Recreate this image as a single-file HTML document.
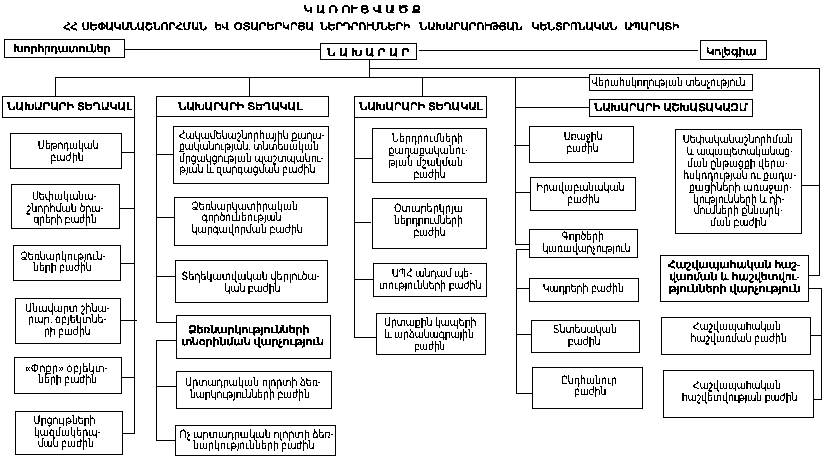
<!DOCTYPE html>
<html lang="hy">
<head>
<meta charset="utf-8">
<title>Կառուցվածք</title>
<style>
html,body{margin:0;padding:0;background:#fff;}
body{width:826px;height:462px;overflow:hidden;font-family:"Liberation Sans",sans-serif;}
svg{display:block;}
svg text{font-family:"Liberation Sans",sans-serif;font-size:11.5px;fill:#000;}
svg text.b{font-weight:bold;font-size:10.4px;stroke:#000;stroke-width:0.3px;}
svg .ln{fill:#000;}
svg .bx{fill:#fff;stroke:#000;stroke-width:1;}
</style>
</head>
<body>
<svg width="826" height="462" viewBox="0 0 826 462" shape-rendering="crispEdges">
<defs>
<filter id="th" x="0" y="0" width="826" height="462" filterUnits="userSpaceOnUse" color-interpolation-filters="sRGB">
<feComponentTransfer><feFuncA type="discrete" tableValues="0 0 1 1 1"/></feComponentTransfer>
</filter>
<filter id="thb" x="0" y="0" width="826" height="462" filterUnits="userSpaceOnUse" color-interpolation-filters="sRGB">
<feComponentTransfer><feFuncA type="discrete" tableValues="0 0 0 1 1"/></feComponentTransfer>
</filter>
</defs>
<rect x="0" y="0" width="826" height="462" fill="#fff"/>
<g class="ln">
<rect x="124" y="49" width="197" height="1"/>
<rect x="419" y="50" width="279" height="1"/>
<rect x="369" y="68" width="451" height="1"/>
<rect x="808" y="275" width="12" height="1"/>
<rect x="801" y="185" width="19" height="1"/>
<rect x="55" y="77" width="535" height="1"/>
<rect x="515" y="107" width="75" height="1"/>
<rect x="121" y="152" width="14" height="1"/>
<rect x="119" y="208" width="16" height="1"/>
<rect x="120" y="263" width="15" height="1"/>
<rect x="120" y="320" width="17" height="1"/>
<rect x="121" y="377" width="14" height="1"/>
<rect x="122" y="433" width="13" height="1"/>
<rect x="156" y="154" width="18" height="1"/>
<rect x="156" y="217" width="19" height="1"/>
<rect x="156" y="276" width="20" height="1"/>
<rect x="156" y="322" width="21" height="1"/>
<rect x="156" y="340" width="21" height="1"/>
<rect x="156" y="386" width="21" height="1"/>
<rect x="156" y="440" width="20" height="1"/>
<rect x="354" y="158" width="19" height="1"/>
<rect x="354" y="222" width="17" height="1"/>
<rect x="354" y="279" width="20" height="1"/>
<rect x="354" y="337" width="23" height="1"/>
<rect x="514" y="145" width="16" height="1"/>
<rect x="515" y="192" width="16" height="1"/>
<rect x="515" y="244" width="16" height="1"/>
<rect x="516" y="249" width="14" height="1"/>
<rect x="516" y="288" width="14" height="1"/>
<rect x="516" y="334" width="16" height="1"/>
<rect x="516" y="393" width="17" height="1"/>
<rect x="808" y="288" width="14" height="1"/>
<rect x="810" y="335" width="12" height="1"/>
<rect x="813" y="399" width="9" height="1"/>
<rect x="369" y="59" width="1" height="19"/>
<rect x="819" y="68" width="1" height="208"/>
<rect x="55" y="77" width="1" height="20"/>
<rect x="249" y="77" width="1" height="20"/>
<rect x="422" y="77" width="1" height="20"/>
<rect x="515" y="77" width="1" height="168"/>
<rect x="134" y="116" width="1" height="318"/>
<rect x="156" y="116" width="1" height="207"/>
<rect x="156" y="340" width="1" height="101"/>
<rect x="354" y="116" width="1" height="222"/>
<rect x="516" y="249" width="1" height="145"/>
<rect x="821" y="288" width="1" height="112"/>
</g>
<g class="bx">
<rect x="4.5" y="39.5" width="120" height="18"/>
<rect x="320.5" y="43.5" width="96" height="16"/>
<rect x="700.5" y="40.5" width="66" height="19"/>
<rect x="589.5" y="74.5" width="163" height="16"/>
<rect x="589.5" y="99.5" width="163" height="17"/>
<rect x="2.5" y="96.5" width="132" height="21"/>
<rect x="156.5" y="96.5" width="172" height="20"/>
<rect x="354.5" y="96.5" width="132" height="21"/>
<rect x="10.5" y="133.5" width="111" height="35"/>
<rect x="11.5" y="184.5" width="108" height="44"/>
<rect x="13.5" y="245.5" width="107" height="35"/>
<rect x="15.5" y="298.5" width="105" height="45"/>
<rect x="14.5" y="357.5" width="107" height="36"/>
<rect x="15.5" y="411.5" width="107" height="43"/>
<rect x="173.5" y="126.5" width="155" height="57"/>
<rect x="174.5" y="197.5" width="153" height="48"/>
<rect x="175.5" y="260.5" width="152" height="42"/>
<rect x="176.5" y="315.5" width="154" height="43"/>
<rect x="176.5" y="371.5" width="155" height="37"/>
<rect x="175.5" y="425.5" width="160" height="30"/>
<rect x="372.5" y="128.5" width="114" height="54"/>
<rect x="372.5" y="198.5" width="114" height="50"/>
<rect x="373.5" y="263.5" width="113" height="33"/>
<rect x="376.5" y="313.5" width="109" height="41"/>
<rect x="529.5" y="126.5" width="104" height="36"/>
<rect x="530.5" y="177.5" width="105" height="33"/>
<rect x="529.5" y="229.5" width="108" height="28"/>
<rect x="529.5" y="278.5" width="109" height="23"/>
<rect x="531.5" y="320.5" width="108" height="32"/>
<rect x="532.5" y="367.5" width="110" height="41"/>
<rect x="675.5" y="129.5" width="126" height="104"/>
<rect x="660.5" y="255.5" width="148" height="46"/>
<rect x="661.5" y="317.5" width="149" height="37"/>
<rect x="663.5" y="370.5" width="150" height="47"/>
</g>
<g text-rendering="geometricPrecision" filter="url(#th)">
<text x="591.2" y="85.7" textLength="154.2" lengthAdjust="spacingAndGlyphs">Վերահսկողության տեսչություն</text>
<text x="37.7" y="149.4" textLength="60.8" lengthAdjust="spacingAndGlyphs">Մեթոդական</text>
<text x="50.3" y="160.7" textLength="33.4" lengthAdjust="spacingAndGlyphs">բաժին</text>
<text x="31.9" y="200.2" textLength="64.8" lengthAdjust="spacingAndGlyphs">Սեփականա-</text>
<text x="26.6" y="211.7" textLength="77.2" lengthAdjust="spacingAndGlyphs">շնորհման ծրա-</text>
<text x="33.4" y="222.8" textLength="63.3" lengthAdjust="spacingAndGlyphs">գրերի բաժին</text>
<text x="20.6" y="259.6" textLength="84.9" lengthAdjust="spacingAndGlyphs">Ձեռնարկություն-</text>
<text x="33.2" y="271.0" textLength="58.5" lengthAdjust="spacingAndGlyphs">ների բաժին</text>
<text x="25.1" y="311.5" textLength="84.7" lengthAdjust="spacingAndGlyphs">Անավարտ շինա-</text>
<text x="28.1" y="323.0" textLength="78.7" lengthAdjust="spacingAndGlyphs">րար. օբյեկտնե-</text>
<text x="44.0" y="334.5" textLength="46.5" lengthAdjust="spacingAndGlyphs">րի բաժին</text>
<text x="25.1" y="371.6" textLength="82.9" lengthAdjust="spacingAndGlyphs">«Փոքր» օբյեկտ-</text>
<text x="38.2" y="383.0" textLength="59.0" lengthAdjust="spacingAndGlyphs">ների բաժին</text>
<text x="33.4" y="424.0" textLength="62.1" lengthAdjust="spacingAndGlyphs">Մրցույթների</text>
<text x="33.9" y="435.5" textLength="66.6" lengthAdjust="spacingAndGlyphs">կազմակերպ-</text>
<text x="37.7" y="447.0" textLength="56.5" lengthAdjust="spacingAndGlyphs">ման բաժին</text>
<text x="178.9" y="138.6" textLength="145.7" lengthAdjust="spacingAndGlyphs">Հակամենաշնորհային քաղա-</text>
<text x="178.9" y="150.4" textLength="139.9" lengthAdjust="spacingAndGlyphs">քականության, տնտեսական</text>
<text x="178.9" y="162.0" textLength="144.9" lengthAdjust="spacingAndGlyphs">մրցակցության պաշտպանու-</text>
<text x="178.9" y="173.3" textLength="136.6" lengthAdjust="spacingAndGlyphs">թյան և զարգացման բաժին</text>
<text x="191.5" y="210.0" textLength="106.5" lengthAdjust="spacingAndGlyphs">Ձեռնարկատիրական</text>
<text x="201.5" y="221.3" textLength="80.0" lengthAdjust="spacingAndGlyphs">գործունեության</text>
<text x="191.5" y="232.8" textLength="111.3" lengthAdjust="spacingAndGlyphs">կարգավորման բաժին</text>
<text x="181.4" y="280.0" textLength="138.6" lengthAdjust="spacingAndGlyphs">Տեղեկատվական վերլուծա-</text>
<text x="224.6" y="291.5" textLength="55.8" lengthAdjust="spacingAndGlyphs">կան բաժին</text>
<text x="185.0" y="386.0" textLength="136.0" lengthAdjust="spacingAndGlyphs">Արտադրական ոլորտի ձեռ-</text>
<text x="190.0" y="397.5" textLength="120.0" lengthAdjust="spacingAndGlyphs">նարկությունների բաժին</text>
<text x="179.6" y="437.7" textLength="154.3" lengthAdjust="spacingAndGlyphs">Ոչ արտադրական ոլորտի ձեռ-</text>
<text x="193.0" y="449.0" textLength="121.3" lengthAdjust="spacingAndGlyphs">նարկությունների բաժին</text>
<text x="392.0" y="141.6" textLength="71.1" lengthAdjust="spacingAndGlyphs">Ներդրումների</text>
<text x="388.5" y="153.9" textLength="79.6" lengthAdjust="spacingAndGlyphs">քաղաքականու-</text>
<text x="388.5" y="166.0" textLength="74.6" lengthAdjust="spacingAndGlyphs">թյան մշակման</text>
<text x="413.4" y="177.5" textLength="32.1" lengthAdjust="spacingAndGlyphs">բաժին</text>
<text x="394.0" y="212.0" textLength="69.1" lengthAdjust="spacingAndGlyphs">Օտարերկրյա</text>
<text x="394.0" y="224.0" textLength="69.1" lengthAdjust="spacingAndGlyphs">ներդրումների</text>
<text x="413.4" y="235.8" textLength="32.1" lengthAdjust="spacingAndGlyphs">բաժին</text>
<text x="391.7" y="277.0" textLength="80.6" lengthAdjust="spacingAndGlyphs">ԱՊՀ անդամ պե-</text>
<text x="379.1" y="288.8" textLength="102.2" lengthAdjust="spacingAndGlyphs">տությունների բաժին</text>
<text x="383.9" y="325.8" textLength="92.5" lengthAdjust="spacingAndGlyphs">Արտաքին կապերի</text>
<text x="383.9" y="337.8" textLength="90.2" lengthAdjust="spacingAndGlyphs">և արձանագրային</text>
<text x="413.9" y="349.6" textLength="31.3" lengthAdjust="spacingAndGlyphs">բաժին</text>
<text x="563.8" y="140.2" textLength="38.7" lengthAdjust="spacingAndGlyphs">Առաջին</text>
<text x="566.6" y="152.3" textLength="32.0" lengthAdjust="spacingAndGlyphs">բաժին</text>
<text x="536.4" y="190.6" textLength="88.2" lengthAdjust="spacingAndGlyphs">Իրավաբանական</text>
<text x="567.3" y="202.5" textLength="32.2" lengthAdjust="spacingAndGlyphs">բաժին</text>
<text x="561.8" y="240.2" textLength="42.2" lengthAdjust="spacingAndGlyphs">Գործերի</text>
<text x="542.4" y="251.7" textLength="88.2" lengthAdjust="spacingAndGlyphs">կառավարչություն</text>
<text x="542.8" y="292.0" textLength="81.0" lengthAdjust="spacingAndGlyphs">Կադրերի բաժին</text>
<text x="552.8" y="332.8" textLength="64.1" lengthAdjust="spacingAndGlyphs">Տնտեսական</text>
<text x="567.8" y="344.7" textLength="32.6" lengthAdjust="spacingAndGlyphs">բաժին</text>
<text x="561.0" y="383.6" textLength="56.0" lengthAdjust="spacingAndGlyphs">Ընդհանուր</text>
<text x="574.3" y="395.4" textLength="31.9" lengthAdjust="spacingAndGlyphs">բաժին</text>
<text x="682.8" y="143.0" textLength="110.4" lengthAdjust="spacingAndGlyphs">Սեփականաշնորհման</text>
<text x="686.8" y="155.0" textLength="106.2" lengthAdjust="spacingAndGlyphs">և ապապետականաց-</text>
<text x="687.0" y="167.0" textLength="101.1" lengthAdjust="spacingAndGlyphs">ման ընթացքի վերա-</text>
<text x="683.3" y="178.8" textLength="113.1" lengthAdjust="spacingAndGlyphs">հսկողության ու քաղա-</text>
<text x="688.7" y="190.6" textLength="103.6" lengthAdjust="spacingAndGlyphs">քացիների առաջար-</text>
<text x="693.2" y="202.5" textLength="91.2" lengthAdjust="spacingAndGlyphs">կությունների և դի-</text>
<text x="693.7" y="214.3" textLength="89.4" lengthAdjust="spacingAndGlyphs">մումների քննարկ-</text>
<text x="710.2" y="226.2" textLength="56.3" lengthAdjust="spacingAndGlyphs">ման բաժին</text>
<text x="693.1" y="330.0" textLength="88.0" lengthAdjust="spacingAndGlyphs">Հաշվապահական</text>
<text x="690.6" y="341.8" textLength="96.2" lengthAdjust="spacingAndGlyphs">հաշվառման բաժին</text>
<text x="693.1" y="388.7" textLength="88.0" lengthAdjust="spacingAndGlyphs">Հաշվապահական</text>
<text x="681.8" y="400.8" textLength="115.6" lengthAdjust="spacingAndGlyphs">հաշվետվության բաժին</text>
</g>
<g text-rendering="geometricPrecision" filter="url(#thb)">
<text class="b" x="303.7" y="13.0" textLength="117.3" lengthAdjust="spacingAndGlyphs">Կ Ա Ռ ՈՒ Ց Վ Ա Ծ Ք</text>
<text class="b" x="63.5" y="29.6" textLength="14.0" lengthAdjust="spacingAndGlyphs">ՀՀ</text>
<text class="b" x="82.1" y="29.6" textLength="124.8" lengthAdjust="spacingAndGlyphs">ՍԵՓԱԿԱՆԱՇՆՈՐՀՄԱՆ</text>
<text class="b" x="215.1" y="29.6" textLength="13.5" lengthAdjust="spacingAndGlyphs">ԵՎ</text>
<text class="b" x="234.1" y="29.6" textLength="79.8" lengthAdjust="spacingAndGlyphs">ՕՏԱՐԵՐԿՐՅԱ</text>
<text class="b" x="320.1" y="29.6" textLength="90.2" lengthAdjust="spacingAndGlyphs">ՆԵՐԴՐՈՒՄՆԵՐԻ</text>
<text class="b" x="419.5" y="29.6" textLength="103.0" lengthAdjust="spacingAndGlyphs">ՆԱԽԱՐԱՐՈՒԹՅԱՆ</text>
<text class="b" x="531.7" y="29.6" textLength="85.6" lengthAdjust="spacingAndGlyphs">ԿԵՆՏՐՈՆԱԿԱՆ</text>
<text class="b" x="624.2" y="29.6" textLength="55.2" lengthAdjust="spacingAndGlyphs">ԱՊԱՐԱՏԻ</text>
<text class="b" x="13.8" y="52.0" textLength="96.8" lengthAdjust="spacingAndGlyphs">Խորհրդատուներ</text>
<text class="b" x="327.1" y="56.0" textLength="82.2" lengthAdjust="spacingAndGlyphs">Ն Ա Խ Ա Ր Ա Ր</text>
<text class="b" x="706.0" y="55.0" textLength="50.2" lengthAdjust="spacingAndGlyphs">Կոլեգիա</text>
<text class="b" x="594.4" y="111.3" textLength="153.2" lengthAdjust="spacingAndGlyphs">ՆԱԽԱՐԱՐԻ ԱՇԽԱՏԱԿԱԶՄ</text>
<text class="b" x="7.5" y="110.0" textLength="124.4" lengthAdjust="spacingAndGlyphs">ՆԱԽԱՐԱՐԻ ՏԵՂԱԿԱԼ</text>
<text class="b" x="178.4" y="110.0" textLength="123.6" lengthAdjust="spacingAndGlyphs">ՆԱԽԱՐԱՐԻ ՏԵՂԱԿԱԼ</text>
<text class="b" x="359.5" y="110.0" textLength="122.8" lengthAdjust="spacingAndGlyphs">ՆԱԽԱՐԱՐԻ ՏԵՂԱԿԱԼ</text>
<text class="b" x="188.2" y="333.0" textLength="121.1" lengthAdjust="spacingAndGlyphs">Ձեռնարկությունների</text>
<text class="b" x="181.4" y="344.5" textLength="142.6" lengthAdjust="spacingAndGlyphs">տնօրինման վարչություն</text>
<text class="b" x="668.0" y="267.7" textLength="132.4" lengthAdjust="spacingAndGlyphs">Հաշվապահական հաշ-</text>
<text class="b" x="669.3" y="279.7" textLength="130.6" lengthAdjust="spacingAndGlyphs">վառման և հաշվետվու-</text>
<text class="b" x="668.5" y="291.5" textLength="131.9" lengthAdjust="spacingAndGlyphs">թյունների վարչություն</text>
</g>
</svg>
</body>
</html>
